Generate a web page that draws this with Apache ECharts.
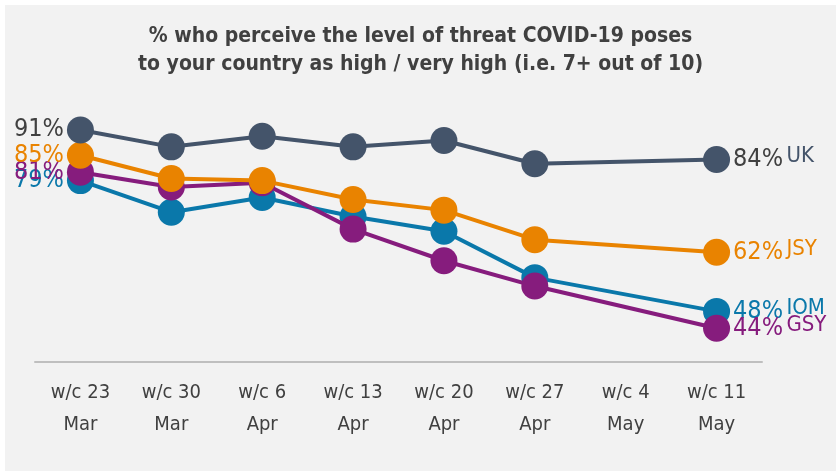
<!DOCTYPE html>
<html>
<head>
<meta charset="utf-8">
<script src="https://cdn.jsdelivr.net/npm/echarts@6/dist/echarts.min.js"></script>
<style>
    html, body { margin: 0; padding: 0; background: #fff; }
    #chart { position: absolute; left: 5px; top: 5px; width: 831px; height: 466px; background: #f2f2f2; }
</style>
</head>
<body>
<div id="chart"></div>
<script>
// weeks (w/c 4 May has no survey data)
var weeks = ['w/c 23\nMar', 'w/c 30\nMar', 'w/c 6\nApr', 'w/c 13\nApr', 'w/c 20\nApr', 'w/c 27\nApr', 'w/c 4\nMay', 'w/c 11\nMay'];
var ukVals  = [91, 87, 89.5, 87, 88.5, 83, null, 84];
var jsyVals = [85, 79.5, 79, 74.5, 72, 65, null, 62];
var iomVals = [79, 71.5, 75, 70.5, 67, 56, null, 48];
var gsyVals = [81, 77.5, 78.5, 67.5, 60, 54, null, 44];

var FONT = "'Liberation Sans Narrow', 'DejaVu Sans Condensed', sans-serif";
var TXT = '#404040';

function makeSeries(name, vals, color, pctColor, z) {
    var last = vals.length - 1;
    var data = vals.map(function (v, i) {
        var item = { value: v };
        if (i === 0) {
            item.label = {
                show: true, position: 'left', distance: 3,
                formatter: '{p|{c}%}',
                rich: { p: { fontSize: 25, color: pctColor, fontFamily: FONT } }
            };
        } else if (i === last) {
            item.label = {
                show: true, position: 'right', distance: 3,
                formatter: '{p|{c}%} {n|' + name + '}',
                rich: {
                    p: { fontSize: 25, color: pctColor, fontFamily: FONT },
                    n: { fontSize: 22, color: color, fontFamily: FONT, padding: [0, 0, 6, 0] }
                }
            };
        }
        return item;
    });
    return {
        name: name,
        type: 'line',
        data: data,
        connectNulls: true,
        symbol: 'circle',
        symbolSize: 27,
        z: z,
        lineStyle: { color: color, width: 4 },
        itemStyle: { color: color },
        label: { show: false },
        emphasis: { disabled: true },
        animation: false
    };
}

var chart = echarts.init(document.getElementById('chart'));
chart.setOption({
    backgroundColor: '#f2f2f2',
    title: {
        text: '% who perceive the level of threat COVID-19 poses\nto your country as high / very high (i.e. 7+ out of 10)',
        left: 'center',
        top: 13,
        textStyle: { fontFamily: FONT, fontSize: 21, fontWeight: 'bold', color: TXT, lineHeight: 28 }
    },
    grid: { left: 30, right: 74, top: 87, bottom: 109 },
    xAxis: {
        type: 'category',
        data: weeks,
        boundaryGap: true,
        axisLine: { lineStyle: { color: '#bfbfbf', width: 2 } },
        axisTick: { show: false },
        axisLabel: { fontFamily: FONT, fontSize: 20, color: TXT, lineHeight: 32, margin: 15, interval: 0 }
    },
    yAxis: {
        type: 'value',
        min: 36,
        max: 100,
        show: false,
        splitLine: { show: false }
    },
    series: [
        makeSeries('IOM', iomVals, '#0a78aa', '#0a78aa', 2),
        makeSeries('GSY', gsyVals, '#861c7d', '#861c7d', 3),
        makeSeries('JSY', jsyVals, '#e98300', '#e98300', 4),
        makeSeries('UK', ukVals, '#44546a', TXT, 5)
    ]
});
</script>
</body>
</html>
